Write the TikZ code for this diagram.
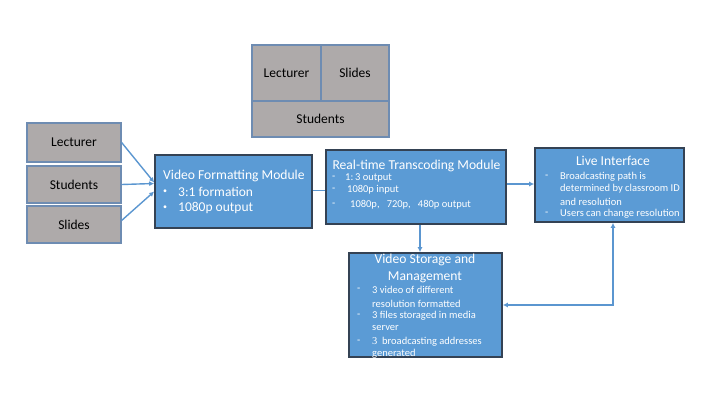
\documentclass[tikz,border=0pt]{standalone}
\usepackage{fontspec}
\setmainfont{Carlito}
\newfontfamily\serifnum{Liberation Serif}
\usetikzlibrary{arrows.meta}
\definecolor{grayfill}{RGB}{174,170,170}
\definecolor{grayedge}{RGB}{110,140,178}
\definecolor{bluefill}{RGB}{91,155,213}
\definecolor{blueedge}{RGB}{52,66,84}
\definecolor{conncol}{RGB}{91,150,208}
\tikzset{
  gbox/.style={draw=grayedge, fill=grayfill, line width=1.2pt, inner sep=0pt, font=\fontsize{13.5}{15}\selectfont},
  bbox/.style={draw=blueedge, fill=bluefill, line width=1.6pt, inner sep=0pt},
  ttl/.style={text=white, inner sep=0pt, font=\fontsize{13.6}{15}\selectfont},
  big/.style={text=white, inner sep=0pt, anchor=west, font=\fontsize{13.5}{15}\selectfont},
  dot/.style={text=white, inner sep=0pt, font=\fontsize{8}{9}\selectfont},
  sml/.style={text=white, inner sep=0pt, anchor=west, font=\fontsize{10.5}{12}\selectfont},
  conn/.style={draw=conncol, line width=1.4pt, -{Latex[length=5pt,width=5pt]}},
  conn2/.style={draw=conncol, line width=1.4pt, {Latex[length=5pt,width=5pt]}-{Latex[length=5pt,width=5pt]}},
  plain/.style={draw=conncol, line width=1.4pt}
}
\begin{document}
\begin{tikzpicture}[x=1pt,y=-1pt]
\useasboundingbox (0,0) rectangle (720,405);
% top layout group
\node[gbox, minimum width=69pt, minimum height=56pt] (tlec) at (286.5,73) {Lecturer};
\node[gbox, minimum width=68pt, minimum height=56pt] (tsli) at (355,73) {Slides};
\node[gbox, minimum width=137pt, minimum height=36pt] (tstu) at (320.5,119) {Students};
% left sources
\node[gbox, minimum width=94pt, minimum height=39pt] (lec) at (74,142.5) {Lecturer};
\node[gbox, minimum width=94pt, minimum height=37pt] (stu) at (74,184.5) {Students};
\node[gbox, minimum width=94pt, minimum height=37pt] (sli) at (74,224.5) {Slides};
% blue modules
\node[bbox, minimum width=157pt, minimum height=73pt] (vfm) at (233.5,191.5) {};
\node[bbox, minimum width=180pt, minimum height=74pt] (rt) at (416,187) {};
\node[bbox, minimum width=149pt, minimum height=74pt] (live) at (609.5,185) {};
\node[bbox, minimum width=153pt, minimum height=104pt] (vs) at (425.5,305) {};
% VFM text
\node[big, font=\fontsize{13.6}{15}\selectfont] (vfmt) at (163,176) {Video Formatting Module};
\node[dot] (vfmb1) at (165,192) {\textbullet};
\node[big] (vfm1) at (178,192) {3:1 formation};
\node[dot] (vfmb2) at (165,208) {\textbullet};
\node[big] (vfm2) at (178,208) {1080p output};
% RT text
\node[ttl] (rtt) at (416.5,166) {Real-time Transcoding Module};
\node[sml] (rtd1) at (332,178) {-};
\node[sml] (rt1) at (345,178) {1:\,3 output};
\node[sml] (rtd2) at (332,190) {-};
\node[sml] (rt2) at (347,190) {1080p input};
\node[sml] (rtd3) at (332,205) {-};
\node[sml] (rt3) at (350,205) {1080p,\ \ \ 720p,\ \ \ 480p output};
% Live text
\node[ttl] (livet) at (613,161) {Live Interface};
\node[sml] (lvd1) at (545,177) {-};
\node[sml] (lv1) at (560,177) {Broadcasting path is};
\node[sml] (lv2) at (560,189) {determined by classroom ID};
\node[sml] (lv3) at (560,202) {and resolution};
\node[sml] (lvd2) at (545,214) {-};
\node[sml] (lv4) at (560,214) {Users can change resolution};
% Storage text
\node[ttl] (vst1) at (425,260) {Video Storage and};
\node[ttl] (vst2) at (425,277) {Management};
\node[sml] (vsd1) at (357,290) {-};
\node[sml] (vs1) at (372,290) {3 video of different};
\node[sml] (vs2) at (372,304) {resolution formatted};
\node[sml] (vsd2) at (357,316) {-};
\node[sml] (vs3) at (372,316) {3 files storaged in media};
\node[sml] (vs4) at (372,328) {server};
\node[sml] (vsd3) at (357,342) {-};
\node[sml] (vs5) at (372,342) {{\serifnum 3}\ \ broadcasting addresses};
\node[sml] (vs6) at (372,353.5) {generated};
% connectors
\draw[conn] (lec.east) -- ([yshift=9pt]vfm.west);
\draw[conn] (stu.east) -- ([yshift=8pt]vfm.west);
\draw[conn] ([yshift=4pt]sli.east) -- ([yshift=0pt]vfm.west);
\draw[plain] ([yshift=1pt]vfm.east) -- ([yshift=1pt]vfm.east -| rt.west);
\draw[conn] ([yshift=3pt]rt.east) -- ([yshift=3pt]rt.east -| live.west);
\draw[conn] ([xshift=4pt]rt.south) -- ([xshift=4pt]rt.south |- vs.north);
\coordinate (corner) at ([xshift=3.5pt]live.south |- vs.east);
\draw[conn2] (vs.east) -- (corner) -- ([xshift=3.5pt]live.south);
\end{tikzpicture}
\end{document}
